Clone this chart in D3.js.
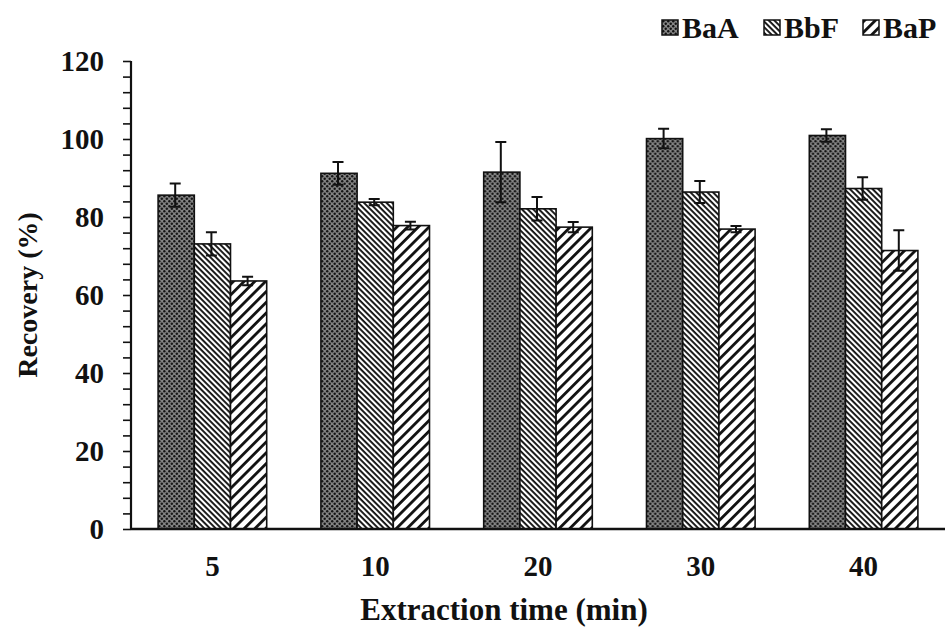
<!DOCTYPE html>
<html>
<head>
<meta charset="utf-8">
<script src="https://cdn.jsdelivr.net/npm/d3@7"></script>
<style>
  body { margin: 0; background: #fff; }
  text { font-family: "Liberation Serif", "Times New Roman", serif; font-weight: bold; fill: #111; }
</style>
</head>
<body>
<svg width="947" height="635"></svg>
<script>
// data
var categories = ["5", "10", "20", "30", "40"];
var seriesNames = ["BaA", "BbF", "BaP"];
var baA = [85.6, 91.2, 91.5, 100.1, 100.9];
var bbF = [73.1, 83.8, 82.1, 86.4, 87.3];
var baP = [63.6, 77.8, 77.4, 76.9, 71.4];
var errBaA = [3.0, 2.9, 7.7, 2.5, 1.6];
var errBbF = [3.0, 0.8, 3.0, 2.8, 2.9];
var errBaP = [1.1, 1.0, 1.3, 0.8, 5.2];
var yTicks = [0, 20, 40, 60, 80, 100, 120];

var values = [baA, bbF, baP], errors = [errBaA, errBbF, errBaP];

var svg = d3.select("svg"),
    plotLeft = 131, plotRight = 945, plotTop = 61, plotBottom = 529;

// patterns
var defs = svg.append("defs");

var p1 = defs.append("pattern").attr("id", "pat0")
    .attr("patternUnits", "userSpaceOnUse").attr("width", 5).attr("height", 5);
p1.append("rect").attr("width", 5).attr("height", 5).attr("fill", "#858585");
p1.append("circle").attr("cx", 1.25).attr("cy", 1.25).attr("r", 1.2).attr("fill", "#111");
p1.append("circle").attr("cx", 3.75).attr("cy", 3.75).attr("r", 1.2).attr("fill", "#111");

var p2 = defs.append("pattern").attr("id", "pat1")
    .attr("patternUnits", "userSpaceOnUse").attr("width", 4).attr("height", 4)
    .attr("patternTransform", "rotate(45)");
p2.append("rect").attr("width", 4).attr("height", 4).attr("fill", "#fff");
p2.append("rect").attr("width", 4).attr("height", 1.9).attr("fill", "#111");

var p3 = defs.append("pattern").attr("id", "pat2")
    .attr("patternUnits", "userSpaceOnUse").attr("width", 7.6).attr("height", 7.6)
    .attr("patternTransform", "rotate(-45)");
p3.append("rect").attr("width", 7.6).attr("height", 7.6).attr("fill", "#fff");
p3.append("rect").attr("width", 7.6).attr("height", 2.8).attr("fill", "#111");

var x0 = d3.scaleBand().domain(categories).range([plotLeft, plotRight])
    .paddingInner(0.333).paddingOuter(0.1665);
var x1 = d3.scaleBand().domain(seriesNames).range([0, x0.bandwidth()]);
var y = d3.scaleLinear().domain([0, 120]).range([plotBottom, plotTop]);

// bars
var groups = svg.append("g").selectAll("g")
  .data(categories).enter().append("g")
    .attr("transform", function(d) { return "translate(" + x0(d) + ",0)"; });

seriesNames.forEach(function(s, si) {
  groups.append("rect")
      .attr("x", x1(s))
      .attr("y", function(d, i) { return y(values[si][i]); })
      .attr("width", x1.bandwidth())
      .attr("height", function(d, i) { return y(0) - y(values[si][i]); })
      .attr("fill", "url(#pat" + si + ")")
      .attr("stroke", "#111")
      .attr("stroke-width", 1.6);
});

// error bars
seriesNames.forEach(function(s, si) {
  var cx = x1(s) + x1.bandwidth() / 2 - 1;
  groups.append("path")
      .attr("fill", "none")
      .attr("stroke", "#111")
      .attr("stroke-width", 2)
      .attr("d", function(d, i) {
        var hi = y(values[si][i] + errors[si][i]), lo = y(values[si][i] - errors[si][i]);
        return "M" + (cx - 5.5) + "," + hi + "H" + (cx + 5.5) +
               "M" + cx + "," + hi + "V" + lo +
               "M" + (cx - 5.5) + "," + lo + "H" + (cx + 5.5);
      });
});

// y axis with minor ticks
svg.append("g")
    .attr("transform", "translate(" + plotLeft + ",0)")
    .call(d3.axisLeft(y).tickValues(d3.range(0, 121, 4)).tickSize(8).tickFormat(""))
    .call(function(g) { g.select(".domain").remove(); })
    .selectAll("line").attr("stroke", "#111").attr("stroke-width", 1.6);

svg.append("g")
    .attr("transform", "translate(" + plotLeft + ",0)")
    .call(d3.axisLeft(y).tickValues(yTicks).tickSize(0).tickPadding(27))
    .call(function(g) { g.select(".domain").remove(); })
    .selectAll("text")
      .style("font-size", "29px")
      .attr("dy", "0.34em");

svg.append("line")
    .attr("x1", plotLeft).attr("x2", plotLeft).attr("y1", y(120)).attr("y2", y(0))
    .attr("stroke", "#111").attr("stroke-width", 2.2);

// x axis
svg.append("g")
    .attr("transform", "translate(0," + plotBottom + ")")
    .call(d3.axisBottom(x0).tickSize(0).tickPadding(26))
    .call(function(g) { g.select(".domain").remove(); })
    .selectAll("text")
      .style("font-size", "29px");

svg.append("line")
    .attr("x1", plotLeft).attr("x2", plotRight).attr("y1", y(0)).attr("y2", y(0))
    .attr("stroke", "#111").attr("stroke-width", 2.4);

// axis titles
svg.append("text")
    .attr("x", 504).attr("y", 620)
    .attr("text-anchor", "middle")
    .style("font-size", "31px")
    .text("Extraction time (min)");

svg.append("text")
    .attr("transform", "translate(37,295) rotate(-90)")
    .attr("text-anchor", "middle")
    .style("font-size", "28px")
    .text("Recovery (%)");

// legend
var legX = [662, 764, 863];
var leg = svg.append("g").selectAll("g")
  .data(seriesNames).enter().append("g")
    .attr("transform", function(d, i) { return "translate(" + legX[i] + ",20)"; });

leg.append("rect")
    .attr("width", 16).attr("height", 15)
    .attr("fill", function(d, i) { return "url(#pat" + i + ")"; })
    .attr("stroke", "#111").attr("stroke-width", 1.5);

leg.append("text")
    .attr("x", 20).attr("y", 18)
    .style("font-size", "30px")
    .text(function(d) { return d; });
</script>
</body>
</html>
